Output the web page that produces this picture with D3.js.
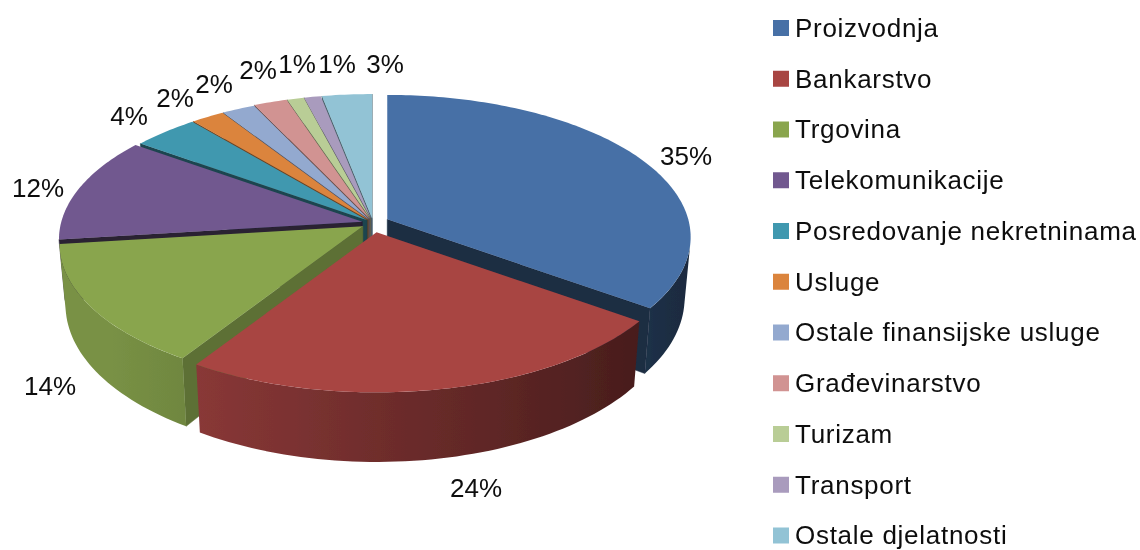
<!DOCTYPE html>
<html><head><meta charset="utf-8">
<script src="https://cdnjs.cloudflare.com/ajax/libs/d3/7.8.5/d3.min.js"></script>
<style>html,body{margin:0;padding:0;background:#fff;overflow:hidden}svg{display:block}text{font-family:"Liberation Sans",Arial,sans-serif;fill:#0c0c0c}</style>
</head><body><svg id="c" width="1140" height="550"></svg>
<script>
const categories = ["Proizvodnja","Bankarstvo","Trgovina","Telekomunikacije","Posredovanje nekretninama","Usluge","Ostale finansijske usluge","Građevinarstvo","Turizam","Transport","Ostale djelatnosti"];
const values = [35,24,14,12,4,2,2,2,1,1,3];
const colors = ["#4670a6","#a84443","#89a54e","#71588f","#4198af","#db843d","#93a9cf","#d19392","#b9cd96","#a99bbd","#92c3d5"];
const explode = [16,19,12,11,8,8,8,9,9,9,9];
const wallShade = [.4,.5,.68,.36,.45,.5,.5,.5,.5,.5,.5];
const labelX = [686,476,50,38,129,175,214,258,297,337,385];
const labelY = [156,488,386,188,116,98,84,70,64,64,64];

const W=1140,H=550, cx=373, cy=223, rx=301, ry=140, k=0.125;
const svg=d3.select("#c");
const defs=svg.append("defs");
defs.append("filter").attr("id","soft").attr("filterUnits","userSpaceOnUse")
  .attr("x",0).attr("y",0).attr("width",W).attr("height",H)
  .append("feGaussianBlur").attr("stdDeviation",.45);
const root=svg.append("g").attr("filter","url(#soft)");
const pie=d3.pie().value(d=>d).sort(null)(values);
// perspective projection of a point on the unit disc (a = clockwise angle from the top, r = radius)
const top3=(a,r=1)=>{const s=-Math.cos(a)*r,c=Math.sin(a)*r,d=1-k*s;return [rx*c/d,ry*s/d];};
const bot3=(a,r=1)=>{const p=top3(a,r);return [p[0]*0.98,p[1]*1.06+60];};
const area=q=>{let t=0;q.forEach((p,i)=>{const n=q[(i+1)%q.length];t+=p[0]*n[1]-n[0]*p[1];});return t/2;};
const line=d3.line().curve(d3.curveLinearClosed);
const shade=(col,m)=>{const c=d3.rgb(col);return d3.rgb(c.r*m,c.g*m,c.b*m).formatHex();};
const sideM=x=>Math.min(.88,.66-.29*x);

const slices=pie.map((d,i)=>{
  const mid=(d.startAngle+d.endAngle)/2;
  return {d,i,mid,ax:cx+explode[i]*Math.sin(mid),ay:cy-explode[i]*Math.cos(mid)*.5};
});
// painter's order: from the back of the pie to the front
const order=d3.range(values.length).sort((a,b)=>(-Math.cos(slices[a].mid))-(-Math.cos(slices[b].mid)));
const g=root.append("g");
order.forEach(i=>{
  const s=slices[i], col=colors[i], G=g.append("g").attr("transform",`translate(${s.ax},${s.ay})`);
  const A=s.d.startAngle,B=s.d.endAngle;
  const draw=(q,fill)=>{ G.append("path").attr("d",line(q)).attr("fill",fill).attr("stroke",fill).attr("stroke-width",.5); };
  // radial walls, only those that face the viewer
  const wallA=[[0,0],top3(A),bot3(A),bot3(A,0)], wallB=[[0,0],top3(B),bot3(B),bot3(B,0)];
  if(area(wallB)>0) draw(wallB,shade(col,wallShade[i]));
  if(area(wallA)<0) draw(wallA,shade(col,wallShade[i]));
  // outer wall: the visible facets as one path with a horizontal gradient
  const n=Math.max(2,Math.ceil((B-A)/(Math.PI/120)));
  const vis=d3.range(n).map(j=>{
    const a=A+(B-A)*j/n,b=A+(B-A)*(j+1)/n;
    return {a,b,on:area([top3(a),top3(b),bot3(b),bot3(a)])<0};
  }).filter(f=>f.on);
  if(vis.length){
    const a0=vis[0].a,a1=vis[vis.length-1].b;
    const angs=[a0,...vis.map(f=>f.b)];
    const x0=top3(a0)[0],x1=top3(a1)[0],id="side"+i;
    const gr=defs.append("linearGradient").attr("id",id).attr("gradientUnits","userSpaceOnUse")
      .attr("x1",x0).attr("x2",x1).attr("y1",0).attr("y2",0);
    angs.filter((_,j)=>j%4===0||j===angs.length-1).forEach(a=>{
      gr.append("stop").attr("offset",Math.abs(x1-x0)<1?0:(top3(a)[0]-x0)/(x1-x0)).attr("stop-color",shade(col,sideM(Math.sin(a))));
    });
    const q=[...angs.map(a=>top3(a)),...angs.slice().reverse().map(a=>bot3(a))];
    G.append("path").attr("d",line(q)).attr("fill",`url(#${id})`);
  }
  // top face
  const m=Math.max(4,Math.ceil((B-A)/(Math.PI/180)));
  const rim=d3.range(m+1).map(j=>top3(A+(B-A)*j/m));
  G.append("path").attr("d",line([[0,0],...rim])).attr("fill",col);
});
root.append("g").selectAll("text").data(values).join("text")
  .attr("x",(d,i)=>labelX[i]).attr("y",(d,i)=>labelY[i]).attr("dy",".36em")
  .attr("text-anchor","middle").attr("font-size",26).text(d=>d+"%");
const y=d3.scalePoint().domain(categories).range([28,535.5]);
const lg=root.append("g").selectAll("g").data(categories).join("g").attr("transform",d=>`translate(773,${y(d)})`);
lg.append("rect").attr("y",-8).attr("width",16).attr("height",16).attr("fill",(d,i)=>colors[i]);
lg.append("text").attr("x",22).attr("dy",".34em").attr("font-size",26).attr("letter-spacing",.72).text(d=>d);
</script></body></html>
